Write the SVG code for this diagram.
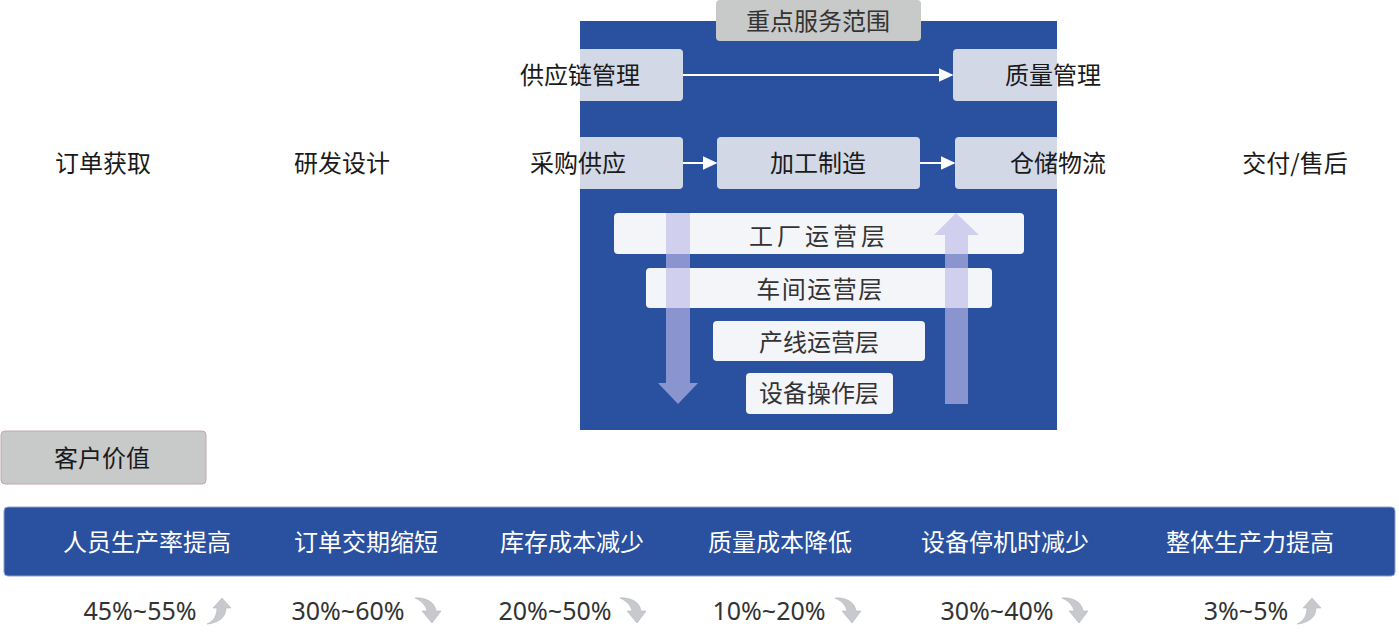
<svg xmlns="http://www.w3.org/2000/svg" width="1399" height="643" viewBox="0 0 1399 643">
<style>
.t{font-family:"Noto Sans CJK SC","Noto Sans",sans-serif;font-size:24px;fill:#1a1a1a;text-anchor:middle;dominant-baseline:central}
.w{fill:#ffffff}
.g{fill:#333333}
.p{font-family:"Noto Sans","Noto Sans CJK SC",sans-serif;font-size:25px;fill:#333333;text-anchor:middle;dominant-baseline:central}
.box{fill:#D2D8E6}
.lay{fill:#F4F5F9}
.gray{fill:#C8C9C9}
.va{fill:#BFBAE8;opacity:0.65}
.ic{fill:#C8C9CC;stroke:#B3B7C4;stroke-width:0.6}
.con{stroke:#ffffff;stroke-width:2;fill:none}
</style>
<defs>
<marker id="ah" viewBox="0 0 10 10" refX="9" refY="5" markerWidth="15" markerHeight="14" markerUnits="userSpaceOnUse" orient="auto" preserveAspectRatio="none">
<path d="M0,0 L10,5 L0,10 Z" fill="#ffffff"/>
</marker>
<path id="up" d="M3,27 C10,24 13,18 13,11 L9,11 L18,1 L27,11 L22,11 C22,20 15,26 3,27 Z"/>
<path id="dn" d="M2,1 C12,0 22,5 23,14 L28,14 L19,26 L9,14 L14,14 C13,9 9,4 2,1 Z"/>
</defs>
<rect x="0" y="0" width="1399" height="643" fill="#ffffff"/>
<rect id="scope" x="580" y="21" width="477" height="409" fill="#2A50A0"/>
<g id="scope-title"><rect x="716" y="0" width="205" height="41" rx="4" class="gray"/><text x="818" y="19" class="t g">重点服务范围</text></g>
<g id="supply-chain"><path d="M580,49 H679 a4,4 0 0 1 4,4 V97 a4,4 0 0 1 -4,4 H580 Z" class="box"/><text x="580" y="73" class="t">供应链管理</text></g>
<g id="quality"><path d="M1057,49 H957 a4,4 0 0 0 -4,4 V97 a4,4 0 0 0 4,4 H1057 Z" class="box"/><text x="1053" y="73" class="t">质量管理</text></g>
<g id="purchase"><path d="M580,137 H679 a4,4 0 0 1 4,4 V185 a4,4 0 0 1 -4,4 H580 Z" class="box"/><text x="578" y="161" class="t">采购供应</text></g>
<g id="manufacture"><rect x="717" y="137" width="203" height="52" rx="4" class="box"/><text x="818" y="161" class="t">加工制造</text></g>
<g id="warehouse"><path d="M1057,137 H959 a4,4 0 0 0 -4,4 V185 a4,4 0 0 0 4,4 H1057 Z" class="box"/><text x="1058" y="161" class="t">仓储物流</text></g>
<g id="order"><text x="103" y="161" class="t">订单获取</text></g>
<g id="rd"><text x="342" y="161" class="t">研发设计</text></g>
<g id="delivery"><text x="1295" y="161" class="t">交付/售后</text></g>
<g id="connectors">
<line x1="683" y1="75" x2="952" y2="75" class="con" marker-end="url(#ah)"/>
<line x1="683" y1="163" x2="716" y2="163" class="con" marker-end="url(#ah)"/>
<line x1="920" y1="163" x2="954" y2="163" class="con" marker-end="url(#ah)"/>
</g>
<g id="layer-factory"><rect x="614" y="213" width="410" height="41" rx="4" class="lay"/><text x="819" y="234" class="t g" style="letter-spacing:4px">工厂运营层</text></g>
<g id="layer-workshop"><rect x="646" y="268" width="346" height="40" rx="4" class="lay"/><text x="820" y="287" class="t g" style="letter-spacing:1.5px">车间运营层</text></g>
<g id="layer-line"><rect x="713" y="321" width="212" height="40" rx="4" class="lay"/><text x="819" y="340" class="t g">产线运营层</text></g>
<g id="layer-device"><rect x="746" y="373" width="147" height="41" rx="4" class="lay"/><text x="819" y="391" class="t g">设备操作层</text></g>
<g id="flow-arrows">
<path d="M666,213 H690 V383 H698 L678,404 L658,383 H666 Z" class="va"/>
<path d="M945,404 V235 H934 L956,213 L979,235 H968 V404 Z" class="va"/>
</g>
<g id="customer-value"><rect x="1" y="431" width="205" height="53" rx="4" class="gray" stroke="#C4A4B8" stroke-width="1"/><text x="102" y="456" class="t">客户价值</text></g>
<g id="value-bar">
<rect x="4" y="507" width="1391" height="69" rx="4" fill="#2A50A0" stroke="#8EA0CC" stroke-width="1"/>
<text x="147" y="540" class="t w">人员生产率提高</text>
<text x="366" y="540" class="t w">订单交期缩短</text>
<text x="572" y="540" class="t w">库存成本减少</text>
<text x="780" y="540" class="t w">质量成本降低</text>
<text x="1005" y="540" class="t w">设备停机时减少</text>
<text x="1250" y="540" class="t w">整体生产力提高</text>
</g>
<g id="values">
<text x="140" y="610" class="p">45%~55%</text>
<text x="348" y="610" class="p">30%~60%</text>
<text x="555" y="610" class="p">20%~50%</text>
<text x="769" y="610" class="p">10%~20%</text>
<text x="997" y="610" class="p">30%~40%</text>
<text x="1246" y="610" class="p">3%~5%</text>
<use href="#up" x="204" y="597" class="ic"/>
<use href="#dn" x="413" y="597" class="ic"/>
<use href="#dn" x="618" y="597" class="ic"/>
<use href="#dn" x="833" y="597" class="ic"/>
<use href="#dn" x="1060" y="597" class="ic"/>
<use href="#up" x="1294" y="597" class="ic"/>
</g>
</svg>
